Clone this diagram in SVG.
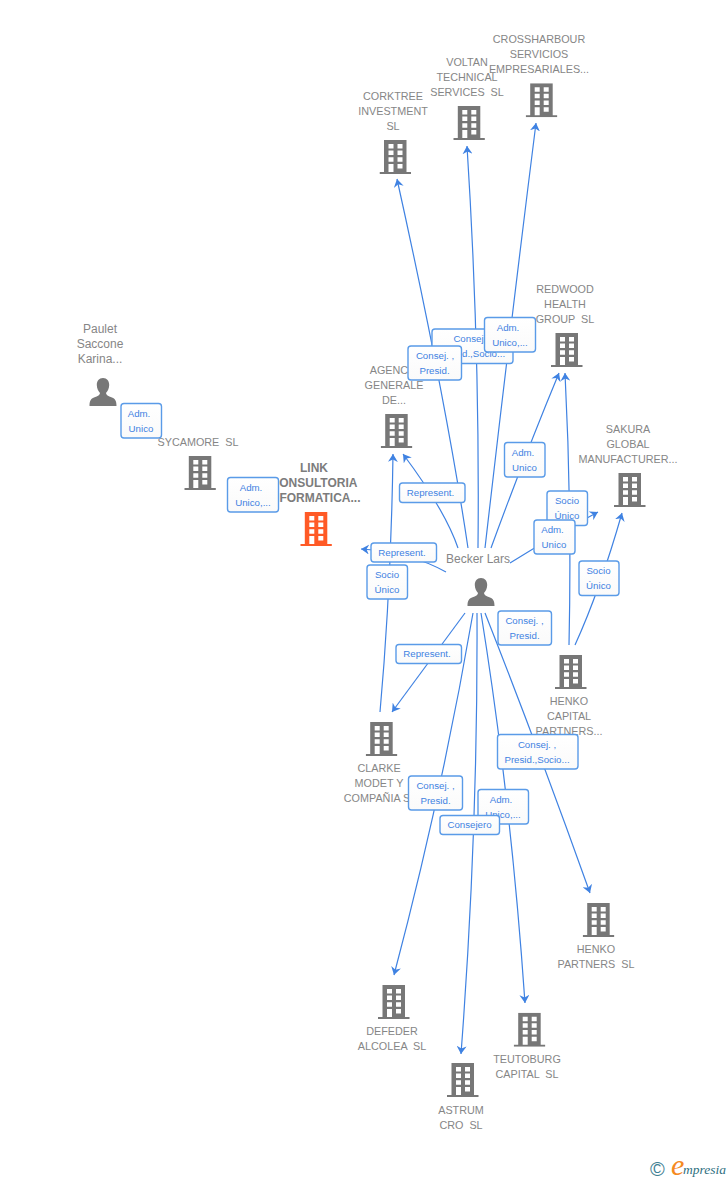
<svg xmlns="http://www.w3.org/2000/svg" width="728" height="1180" viewBox="0 0 728 1180">
<style>
text{font-family:"Liberation Sans",Arial,sans-serif;white-space:pre}
.n{font-size:10.8px;fill:#868686;text-anchor:middle}
.p{font-size:12px}
.b{font-weight:bold;font-size:12px;fill:#7c7c7c}
.l{font-size:9.7px;fill:#3f82e2;text-anchor:middle}
.r{fill:url(#lg);stroke:#5a9be8;stroke-width:1.4}
.c{fill:none;stroke:#3f82e2;stroke-width:1.2;marker-end:url(#ah)}
.g{color:#777}
.o{color:#ff5a26}
</style>
<defs>
<linearGradient id="lg" x1="0" y1="0" x2="0" y2="1"><stop offset="0" stop-color="#fff"/><stop offset="1" stop-color="#fafafa"/></linearGradient>
<marker id="ah" markerUnits="userSpaceOnUse" markerWidth="10" markerHeight="10" refX="8" refY="5" orient="auto"><path d="M8,5 L0,0 L2.5,5 L0,10 Z" fill="#3f82e2"/></marker>
<symbol id="bld" width="32" height="34" viewBox="0 0 32 34">
<path fill="currentColor" fill-rule="evenodd" d="M4.5,0H27V32H31.5V34H0V32H4.5ZM9,4V8.5H14V4ZM18,4V8.5H23V4ZM9,10.5V15H14V10.5ZM18,10.5V15H23V10.5ZM9,17.2V21.7H14V17.2ZM18,17.2V21.7H23V17.2ZM9,24V32H14V24ZM18,24V28.5H23V24Z"/>
</symbol>
<symbol id="psn" width="28" height="28" viewBox="0 0 28 28">
<path fill="currentColor" d="M14,0C10,0 7.8,3 7.8,7C7.8,10.5 9.5,13.5 11,15C11,17 9,18 5,19.5C2,20.7 .5,22.5 .5,28H27.5C27.5,22.5 26,20.7 23,19.5C19,18 17,17 17,15C18.5,13.5 20.2,10.5 20.2,7C20.2,3 18,0 14,0Z"/>
</symbol>
</defs>
<rect width="728" height="1180" fill="#fff"/>
<g id="connectors">
<path class="c" d="M468,548Q446,400 397,179"/>
<path class="c" d="M478,548Q480,350 467,146"/>
<path class="c" d="M485,548Q510,330 536,123"/>
<path class="c" d="M491,548Q525,455 559,373"/>
<path class="c" d="M569,645Q572,510 565,373"/>
<path class="c" d="M510,563Q555,535 598,512"/>
<path class="c" d="M575,645Q600,590 622,513"/>
<path class="c" d="M380,712Q391,590 393,454"/>
<path class="c" d="M458,548Q445,510 403,454"/>
<path class="c" d="M446,572Q410,552 361,549"/>
<path class="c" d="M465,613L392,712"/>
<path class="c" d="M473,613Q442,794 394,975"/>
<path class="c" d="M477,613Q478,830 461,1054"/>
<path class="c" d="M481,613Q511,800 525,1003"/>
<path class="c" d="M485,613Q539,750 590,893"/>
</g>
<g id="n-corktree"><use href="#bld" x="379.5" y="140" class="g"/><text class="n" x="393" y="100">CORKTREE</text><text class="n" x="393" y="115">INVESTMENT</text><text class="n" x="393" y="130">SL</text></g>
<g id="n-voltan"><use href="#bld" x="453.3" y="106" class="g"/><text class="n" x="467" y="66">VOLTAN</text><text class="n" x="467" y="81">TECHNICAL</text><text class="n" x="467" y="96">SERVICES  SL</text></g>
<g id="n-crossharbour"><use href="#bld" x="525.7" y="83.3" class="g"/><text class="n" x="539" y="43">CROSSHARBOUR</text><text class="n" x="539" y="58">SERVICIOS</text><text class="n" x="539" y="73">EMPRESARIALES...</text></g>
<g id="n-redwood"><use href="#bld" x="551" y="333" class="g"/><text class="n" x="565" y="293">REDWOOD</text><text class="n" x="565" y="308">HEALTH</text><text class="n" x="565" y="323">GROUP  SL</text></g>
<g id="n-agencia"><use href="#bld" x="380.7" y="414" class="g"/><text class="n" x="394" y="374">AGENCIA</text><text class="n" x="394" y="389">GENERALE</text><text class="n" x="394" y="404">DE...</text></g>
<g id="n-paulet"><use href="#psn" x="89" y="378" class="g"/><text class="n p" x="100" y="333">Paulet</text><text class="n p" x="100" y="348">Saccone</text><text class="n p" x="100" y="363">Karina...</text></g>
<g id="n-sycamore"><use href="#bld" x="184.3" y="456" class="g"/><text class="n" x="198" y="446">SYCAMORE  SL</text></g>
<g id="n-link"><use href="#bld" x="300.3" y="512" class="o"/><text class="n b" x="314" y="472">LINK</text><text class="n b" x="314" y="487">CONSULTORIA</text><text class="n b" x="314" y="502">INFORMATICA...</text></g>
<g id="n-sakura"><use href="#bld" x="614" y="473" class="g"/><text class="n" x="628" y="433">SAKURA</text><text class="n" x="628" y="448">GLOBAL</text><text class="n" x="628" y="463">MANUFACTURER...</text></g>
<g id="n-becker"><use href="#psn" x="467" y="578" class="g"/><text class="n p" x="478" y="563">Becker Lars</text></g>
<g id="n-henko-capital"><use href="#bld" x="555" y="655" class="g"/><text class="n" x="569" y="705">HENKO</text><text class="n" x="569" y="720">CAPITAL</text><text class="n" x="569" y="735">PARTNERS...</text></g>
<g id="n-clarke"><use href="#bld" x="365.7" y="722" class="g"/><text class="n" x="379" y="772">CLARKE</text><text class="n" x="379" y="787">MODET Y</text><text class="n" x="380" y="802">COMPAÑIA SL</text></g>
<g id="n-henko-partners"><use href="#bld" x="582.7" y="903" class="g"/><text class="n" x="596" y="953">HENKO</text><text class="n" x="596" y="968">PARTNERS  SL</text></g>
<g id="n-defeder"><use href="#bld" x="378" y="985" class="g"/><text class="n" x="392" y="1035">DEFEDER</text><text class="n" x="392" y="1050">ALCOLEA  SL</text></g>
<g id="n-astrum"><use href="#bld" x="447" y="1063" class="g"/><text class="n" x="461" y="1114">ASTRUM</text><text class="n" x="461" y="1129">CRO  SL</text></g>
<g id="n-teutoburg"><use href="#bld" x="513.7" y="1012.7" class="g"/><text class="n" x="527" y="1063">TEUTOBURG</text><text class="n" x="527" y="1078">CAPITAL  SL</text></g>
<g id="labels">
<g><rect class="r" x="121" y="403.5" width="40.5" height="34.5" rx="3"/><text class="l" x="139" y="417">Adm.</text><text class="l" x="141" y="432">Unico</text></g>
<g><rect class="r" x="227.5" y="477.5" width="51" height="34.5" rx="3"/><text class="l" x="251" y="491">Adm.</text><text class="l" x="253" y="506">Unico,...</text></g>
<g><rect class="r" x="432" y="329" width="81" height="34.5" rx="3"/><text class="l" x="472.5" y="342">Consej. ,</text><text class="l" x="472.5" y="357">Presid.,Socio...</text></g>
<g><rect class="r" x="408" y="346" width="53.5" height="34" rx="3"/><text class="l" x="435" y="359">Consej. ,</text><text class="l" x="434.5" y="374">Presid.</text></g>
<g><rect class="r" x="484.5" y="317.5" width="51" height="34.5" rx="3"/><text class="l" x="508" y="331">Adm.</text><text class="l" x="510" y="346">Unico,...</text></g>
<g><rect class="r" x="504.5" y="442.5" width="40.5" height="34.5" rx="3"/><text class="l" x="523" y="456">Adm.</text><text class="l" x="524.5" y="471">Unico</text></g>
<g><rect class="r" x="399.5" y="483" width="65.5" height="19.5" rx="3"/><text class="l" x="430.5" y="496">Represent.</text></g>
<g><rect class="r" x="547" y="491" width="40.5" height="34.5" rx="3"/><text class="l" x="567" y="504">Socio</text><text class="l" x="567" y="519">Único</text></g>
<g><rect class="r" x="534" y="520" width="41" height="34" rx="3"/><text class="l" x="552.5" y="533">Adm.</text><text class="l" x="554" y="548">Unico</text></g>
<g><rect class="r" x="579" y="561" width="40" height="34.5" rx="3"/><text class="l" x="598.5" y="574">Socio</text><text class="l" x="598.5" y="589">Único</text></g>
<g><rect class="r" x="371" y="543" width="65.5" height="19" rx="3"/><text class="l" x="402" y="556">Represent.</text></g>
<g><rect class="r" x="367" y="565" width="40.5" height="34" rx="3"/><text class="l" x="387" y="578">Socio</text><text class="l" x="387" y="593">Único</text></g>
<g><rect class="r" x="498" y="611" width="53.5" height="34" rx="3"/><text class="l" x="524.5" y="624">Consej. ,</text><text class="l" x="524.5" y="639">Presid.</text></g>
<g><rect class="r" x="396" y="644.5" width="65.5" height="19" rx="3"/><text class="l" x="427" y="657">Represent.</text></g>
<g><rect class="r" x="497.5" y="734.5" width="80.5" height="34.5" rx="3"/><text class="l" x="537" y="748">Consej. ,</text><text class="l" x="537" y="763">Presid.,Socio...</text></g>
<g><rect class="r" x="408.5" y="776" width="54" height="34" rx="3"/><text class="l" x="435.5" y="789">Consej. ,</text><text class="l" x="435.5" y="804">Presid.</text></g>
<g><rect class="r" x="478" y="789.5" width="50.5" height="34.5" rx="3"/><text class="l" x="501" y="803">Adm.</text><text class="l" x="503" y="818">Unico,...</text></g>
<g><rect class="r" x="440" y="815.5" width="59.5" height="19" rx="3"/><text class="l" x="469.5" y="828">Consejero</text></g>
</g>
<g id="logo">
<text x="650" y="1176" style="font-size:20px;fill:#3f7f93">©</text>
<text x="671" y="1175" style="font-family:'Liberation Serif',serif;font-style:italic;font-size:30px;fill:#f58a1f">e</text>
<text x="683" y="1174" style="font-family:'Liberation Serif',serif;font-style:italic;font-size:13.5px;fill:#2f6f80">mpresia</text>
</g>
</svg>
